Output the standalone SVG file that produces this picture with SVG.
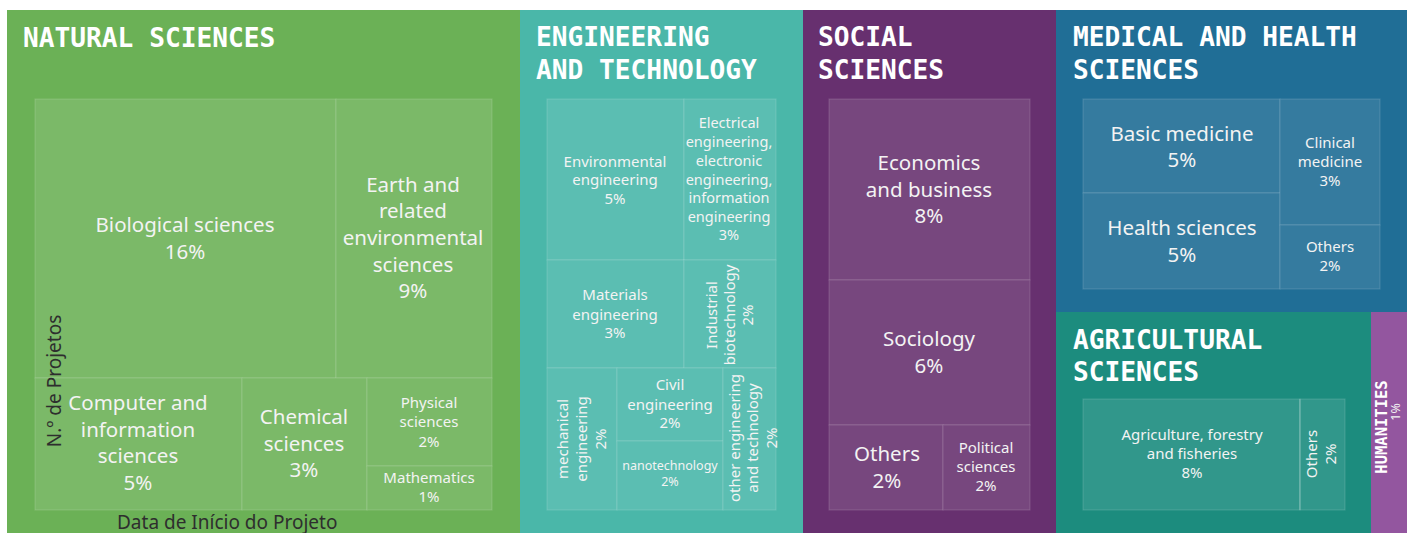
<svg xmlns="http://www.w3.org/2000/svg" width="1412" height="533" viewBox="0 0 1412 533">
<style>
.title{font-family:"DejaVu Sans Mono","Liberation Mono",monospace;font-weight:bold;font-size:26.2px;fill:#FFFFFF}
.lab{font-family:"Noto Sans","Open Sans",sans-serif;fill:#F3F3F3;text-anchor:middle}
.big{font-size:20.5px}
.sm{font-size:15px}
.xs{font-size:14.5px}
.tiny{font-size:12.5px}
.axis{font-family:"Noto Sans","Open Sans",sans-serif;font-size:19px;fill:#2E2E2E}
.cell{stroke:rgba(255,255,255,0.13);stroke-width:1.2}
.nat-o{fill:#6BB156}.nat-i{fill:#7BB968}
.eng-o{fill:#4AB7A9}.eng-i{fill:#5BBEB2}
.soc-o{fill:#67306F}.soc-i{fill:#77477E}
.med-o{fill:#206E96}.med-i{fill:#357B9F}
.agr-o{fill:#1C8C7E}.agr-i{fill:#31978B}
.hum-o{fill:#93569F}
</style>
<rect width="1412" height="533" fill="#FFFFFF"/>

<g id="natural-sciences">
<rect class="nat-o" x="7" y="10" width="513" height="523"/>
<text class="title" x="23" y="47">NATURAL SCIENCES</text>
<g id="biological-sciences"><rect class="nat-i cell" x="35" y="99" width="301" height="279"/>
<text class="lab big" x="185" y="232">Biological sciences<tspan x="185" y="259">16%</tspan></text></g>
<g id="earth-sciences"><rect class="nat-i cell" x="336" y="99" width="156" height="279"/>
<text class="lab big" x="413" y="192">Earth and<tspan x="413" y="218">related</tspan><tspan x="413" y="245">environmental</tspan><tspan x="413" y="272">sciences</tspan><tspan x="413" y="298">9%</tspan></text></g>
<g id="computer-sciences"><rect class="nat-i cell" x="35" y="378" width="207" height="132"/>
<text class="lab big" x="138" y="410">Computer and<tspan x="138" y="437">information</tspan><tspan x="138" y="463">sciences</tspan><tspan x="138" y="490">5%</tspan></text></g>
<g id="chemical-sciences"><rect class="nat-i cell" x="242" y="378" width="125" height="132"/>
<text class="lab big" x="304" y="424">Chemical<tspan x="304" y="451">sciences</tspan><tspan x="304" y="477">3%</tspan></text></g>
<g id="physical-sciences"><rect class="nat-i cell" x="367" y="378" width="125" height="88"/>
<text class="lab sm" x="429" y="408">Physical<tspan x="429" y="427">sciences</tspan><tspan x="429" y="447">2%</tspan></text></g>
<g id="mathematics"><rect class="nat-i cell" x="367" y="466" width="125" height="44"/>
<text class="lab sm" x="429" y="483">Mathematics<tspan x="429" y="502">1%</tspan></text></g>
<text class="axis" transform="translate(61,381) rotate(-90)" text-anchor="middle">N.º de Projetos</text>
<text class="axis" x="117" y="529">Data de Início do Projeto</text>
</g>

<g id="engineering-technology">
<rect class="eng-o" x="520" y="10" width="283" height="523"/>
<text class="title" x="536" y="46">ENGINEERING<tspan x="536" y="79">AND TECHNOLOGY</tspan></text>
<g id="environmental-engineering"><rect class="eng-i cell" x="547" y="99" width="137" height="161"/>
<text class="lab sm" x="615" y="167">Environmental<tspan x="615" y="185">engineering</tspan><tspan x="615" y="204">5%</tspan></text></g>
<g id="electrical-engineering"><rect class="eng-i cell" x="684" y="99" width="92" height="161"/>
<text class="lab xs" x="729" y="128">Electrical<tspan x="729" y="147">engineering,</tspan><tspan x="729" y="166">electronic</tspan><tspan x="729" y="185">engineering,</tspan><tspan x="729" y="203">information</tspan><tspan x="729" y="222">engineering</tspan><tspan x="729" y="240">3%</tspan></text></g>
<g id="materials-engineering"><rect class="eng-i cell" x="547" y="260" width="137" height="108"/>
<text class="lab sm" x="615" y="300">Materials<tspan x="615" y="320">engineering</tspan><tspan x="615" y="338">3%</tspan></text></g>
<g id="industrial-biotechnology"><rect class="eng-i cell" x="684" y="260" width="92" height="108"/>
<text class="lab sm" transform="translate(717,315) rotate(-90)" x="0" y="0">Industrial<tspan x="0" y="18">biotechnology</tspan><tspan x="0" y="36">2%</tspan></text></g>
<g id="mechanical-engineering"><rect class="eng-i cell" x="547" y="368" width="70" height="142"/>
<text class="lab sm" transform="translate(568,439) rotate(-90)" x="0" y="0">mechanical<tspan x="0" y="19">engineering</tspan><tspan x="0" y="38">2%</tspan></text></g>
<g id="civil-engineering"><rect class="eng-i cell" x="617" y="368" width="106" height="73"/>
<text class="lab sm" x="670" y="390">Civil<tspan x="670" y="410">engineering</tspan><tspan x="670" y="428">2%</tspan></text></g>
<g id="nanotechnology"><rect class="eng-i cell" x="617" y="441" width="106" height="69"/>
<text class="lab tiny" x="670" y="470">nanotechnology<tspan x="670" y="486">2%</tspan></text></g>
<g id="other-engineering"><rect class="eng-i cell" x="723" y="368" width="53" height="142"/>
<text class="lab sm" transform="translate(740,438) rotate(-90)" x="0" y="0">other engineering<tspan x="0" y="18">and technology</tspan><tspan x="0" y="37">2%</tspan></text></g>
</g>

<g id="social-sciences">
<rect class="soc-o" x="803" y="10" width="253" height="523"/>
<text class="title" x="818" y="46">SOCIAL<tspan x="818" y="79">SCIENCES</tspan></text>
<g id="economics-business"><rect class="soc-i cell" x="829" y="99" width="201" height="181"/>
<text class="lab big" x="929" y="170">Economics<tspan x="929" y="197">and business</tspan><tspan x="929" y="223">8%</tspan></text></g>
<g id="sociology"><rect class="soc-i cell" x="829" y="280" width="201" height="145"/>
<text class="lab big" x="929" y="346">Sociology<tspan x="929" y="373">6%</tspan></text></g>
<g id="social-others"><rect class="soc-i cell" x="829" y="425" width="114" height="85"/>
<text class="lab big" x="887" y="461">Others<tspan x="887" y="488">2%</tspan></text></g>
<g id="political-sciences"><rect class="soc-i cell" x="943" y="425" width="87" height="85"/>
<text class="lab sm" x="986" y="453">Political<tspan x="986" y="472">sciences</tspan><tspan x="986" y="491">2%</tspan></text></g>
</g>

<g id="medical-health-sciences">
<rect class="med-o" x="1056" y="10" width="351" height="302"/>
<text class="title" x="1073" y="46">MEDICAL AND HEALTH<tspan x="1073" y="79">SCIENCES</tspan></text>
<g id="basic-medicine"><rect class="med-i cell" x="1083" y="99" width="197" height="94"/>
<text class="lab big" x="1182" y="141">Basic medicine<tspan x="1182" y="167">5%</tspan></text></g>
<g id="health-sciences"><rect class="med-i cell" x="1083" y="193" width="197" height="96"/>
<text class="lab big" x="1182" y="235">Health sciences<tspan x="1182" y="262">5%</tspan></text></g>
<g id="clinical-medicine"><rect class="med-i cell" x="1280" y="99" width="100" height="126"/>
<text class="lab sm" x="1330" y="148">Clinical<tspan x="1330" y="167">medicine</tspan><tspan x="1330" y="186">3%</tspan></text></g>
<g id="medical-others"><rect class="med-i cell" x="1280" y="225" width="100" height="64"/>
<text class="lab sm" x="1330" y="252">Others<tspan x="1330" y="271">2%</tspan></text></g>
</g>

<g id="agricultural-sciences">
<rect class="agr-o" x="1056" y="312" width="315" height="221"/>
<text class="title" x="1073" y="349">AGRICULTURAL<tspan x="1073" y="381">SCIENCES</tspan></text>
<g id="agriculture-forestry-fisheries"><rect class="agr-i cell" x="1083" y="399" width="217" height="111"/>
<text class="lab sm" x="1192" y="440">Agriculture, forestry<tspan x="1192" y="459">and fisheries</tspan><tspan x="1192" y="478">8%</tspan></text></g>
<g id="agricultural-others"><rect class="agr-i cell" x="1300" y="399" width="45" height="111"/>
<line x1="1300" y1="399" x2="1300" y2="510" stroke="rgba(255,255,255,0.15)" stroke-width="2"/>
<text class="lab sm" transform="translate(1317,454) rotate(-90)" x="0" y="0">Others<tspan x="0" y="19">2%</tspan></text></g>
</g>

<g id="humanities">
<rect class="hum-o" x="1371" y="312" width="36" height="221"/>
<text class="title" style="font-size:15.5px;text-anchor:middle" transform="translate(1387,427) rotate(-90)">HUMANITIES</text>
<text class="lab tiny" transform="translate(1400,412) rotate(-90)">1%</text>
</g>

<g id="connectors"/>
</svg>
